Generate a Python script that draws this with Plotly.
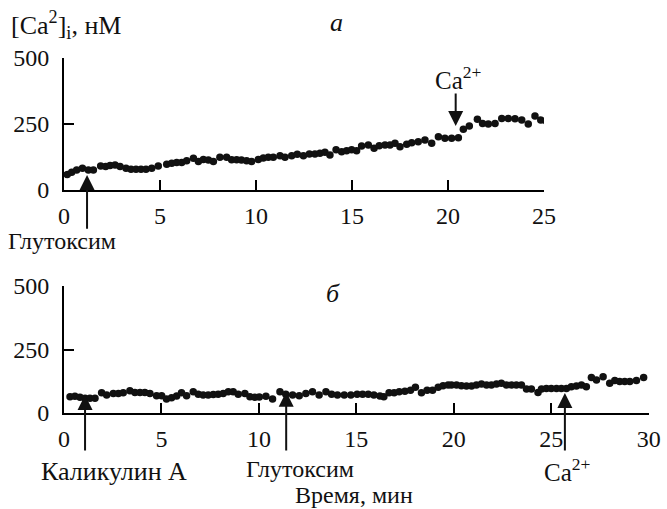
import plotly.graph_objects as go

# ---- Panel a data (time, min ; [Ca2+]i, nM) ----
t_a = [0.17, 0.40, 0.66, 0.96, 1.27, 1.53, 1.91, 2.17, 2.40, 2.66, 2.92, 3.23, 3.49, 3.75,
       4.01, 4.27, 4.57, 4.91, 5.35, 5.61, 5.87, 6.13, 6.39, 6.74, 7.00, 7.26, 7.52, 7.78,
       8.12, 8.47, 8.73, 8.99, 9.24, 9.51, 9.77, 10.12, 10.38, 10.64, 10.90, 11.25, 11.51,
       11.86, 12.15, 12.47, 12.78, 13.07, 13.33, 13.59, 13.85, 14.17, 14.46, 14.72, 14.98,
       15.24, 15.50, 15.85, 16.15, 16.42, 16.72, 16.98, 17.24, 17.50, 17.85, 18.11, 18.45,
       18.80, 19.15, 19.50, 19.84, 20.19, 20.54, 20.80, 21.11, 21.53, 21.80, 22.10, 22.45,
       22.80, 23.14, 23.49, 23.84, 24.18, 24.53, 24.83, 25.10]
ca_a = [59, 67, 76, 82, 76, 76, 91, 89, 93, 95, 89, 82, 79, 79,
        79, 79, 82, 91, 98, 101, 104, 104, 111, 120, 108, 116, 114, 108,
        124, 124, 115, 115, 114, 111, 108, 116, 121, 124, 124, 130, 124,
        130, 135, 130, 136, 136, 139, 143, 133, 152, 145, 149, 152,
        149, 167, 170, 158, 168, 170, 170, 177, 164, 173, 179, 183,
        189, 177, 202, 196, 196, 198, 230, 242, 268, 252, 250, 252,
        271, 271, 270, 265, 250, 280, 265, 262]

# ---- Panel b data ----
t_b = [0.31, 0.56, 0.82, 1.08, 1.33, 1.59, 1.93, 2.19, 2.53, 2.79, 3.04, 3.38, 3.64, 3.90,
       4.15, 4.41, 4.75, 5.01, 5.26, 5.52, 5.78, 6.03, 6.29, 6.63, 6.89, 7.14, 7.40, 7.66,
       7.91, 8.17, 8.43, 8.68, 8.94, 9.28, 9.54, 9.79, 10.02, 10.36, 10.70, 11.08, 11.38,
       11.73, 12.07, 12.41, 12.75, 13.09, 13.44, 13.73, 14.03, 14.38, 14.72, 15.04, 15.32,
       15.61, 15.90, 16.21, 16.41, 16.68, 16.94, 17.20, 17.49, 17.78, 18.03, 18.34, 18.63,
       18.91, 19.20, 19.45, 19.71, 19.88, 20.14, 20.39, 20.65, 20.91, 21.16, 21.42, 21.68,
       21.93, 22.19, 22.44, 22.70, 22.96, 23.21, 23.47, 23.73, 23.98, 24.32, 24.50, 24.75,
       25.00, 25.27, 25.52, 25.78, 26.03, 26.29, 26.55, 26.80, 27.06, 27.32, 27.66, 28.00,
       28.26, 28.51, 28.77, 29.03, 29.37, 29.74]
ca_b = [64, 66, 62, 58, 58, 58, 80, 71, 77, 77, 80, 88, 81, 81,
        81, 77, 68, 68, 55, 60, 67, 80, 68, 84, 74, 71, 71, 73,
        74, 77, 84, 84, 74, 77, 64, 62, 63, 66, 55, 84, 74,
        71, 68, 77, 84, 71, 84, 74, 71, 71, 71, 74, 74,
        74, 71, 67, 64, 80, 80, 84, 86, 90, 101, 80, 90,
        90, 101, 107, 110, 110, 110, 107, 106, 106, 110, 114, 110,
        110, 114, 117, 110, 110, 110, 110, 94, 94, 81, 94, 96,
        96, 96, 96, 96, 103, 106, 110, 103, 140, 130, 143, 117,
        128, 124, 124, 124, 128, 140]

# ---- Axis ticks ----
x_ticks_a = [0, 5, 10, 15, 20, 25]
x_ticks_b = [0, 5, 10, 15, 20, 25, 30]
y_ticks = [0, 250, 500]

# ---- Event arrows: (label, time, tip value, tail value) ----
events_a = [("Глутоксим", 1.2, 57, -152), ("Ca2+", 20.4, 242, 371)]
events_b = [("Каликулин А", 1.08, 71, -154), ("Глутоксим", 11.4, 84, -154), ("Ca2+", 25.7, 79, -154)]

W, H = 667, 509
FONT = "Liberation Serif, Times New Roman, serif"
FS_TICK = 24

def px(x):
    return x / W

def py(y):
    return 1 - y / H

fig = go.Figure()
fig.add_trace(go.Scatter(x=t_a, y=ca_a, mode="markers", xaxis="x", yaxis="y",
                         marker=dict(color="#111", size=7.5), showlegend=False))
fig.add_trace(go.Scatter(x=t_b, y=ca_b, mode="markers", xaxis="x2", yaxis="y2",
                         marker=dict(color="#111", size=7.5), showlegend=False))

axis_common = dict(showline=True, linecolor="black", linewidth=2, ticks="inside",
                   ticklen=10, tickwidth=2, tickcolor="black", showgrid=False,
                   zeroline=False, automargin=False,
                   tickfont=dict(family=FONT, size=FS_TICK, color="#111"))

fig.update_layout(
    width=W, height=H, margin=dict(l=0, r=0, t=0, b=0, pad=0),
    paper_bgcolor="white", plot_bgcolor="white",
    font=dict(family=FONT, size=FS_TICK, color="#111"),
    xaxis=dict(domain=[px(64), px(544)], range=[0, 25], tickvals=x_ticks_a,
               anchor="y", ticklabelstandoff=3, **axis_common),
    yaxis=dict(domain=[py(190), py(58)], range=[0, 500], tickvals=y_ticks,
               anchor="x", ticklabelstandoff=8, **axis_common),
    xaxis2=dict(domain=[px(64), px(648.7)], range=[0, 30], tickvals=x_ticks_b,
                anchor="y2", ticklabelstandoff=3, **axis_common),
    yaxis2=dict(domain=[py(413), py(286)], range=[0, 500], tickvals=y_ticks,
                anchor="x2", ticklabelstandoff=8, **axis_common),
)

anns = []
for (name, t, tip, tail) in events_a:
    anns.append(dict(x=t, y=tip, ax=t, ay=tail, xref="x", yref="y", axref="x", ayref="y",
                     text="", showarrow=True, arrowhead=2, arrowsize=1.5, arrowwidth=2,
                     arrowcolor="#111", standoff=0))
for (name, t, tip, tail) in events_b:
    anns.append(dict(x=t, y=tip, ax=t, ay=tail, xref="x2", yref="y2", axref="x2", ayref="y2",
                     text="", showarrow=True, arrowhead=2, arrowsize=1.5, arrowwidth=2,
                     arrowcolor="#111", standoff=0))

def label(text, x, y, size, xanchor="center", italic=False):
    anns.append(dict(x=px(x), y=py(y), xref="paper", yref="paper", text=text,
                     showarrow=False, xanchor=xanchor, yanchor="middle",
                     font=dict(family=FONT, size=size, color="#111",
                               style="italic" if italic else "normal")))

label("[Ca<sup>2</sup>]<sub>i</sub>, нМ", 9, 25, 26, xanchor="left")
label("а", 336, 22, 26, italic=True)
label("б", 333, 293, 26, italic=True)
label("Глутоксим", 62, 241, 24)
label("Ca<sup>2+</sup>", 459, 78, 25)
label("Каликулин А", 114, 471, 26)
label("Глутоксим", 300, 469, 24)
label("Ca<sup>2+</sup>", 567, 470, 25)
label("Время, мин", 354, 495, 24)

fig.update_layout(annotations=anns)
fig.write_html("out.html",
               post_script="document.body.style.margin='0';document.body.style.overflow='hidden';")
